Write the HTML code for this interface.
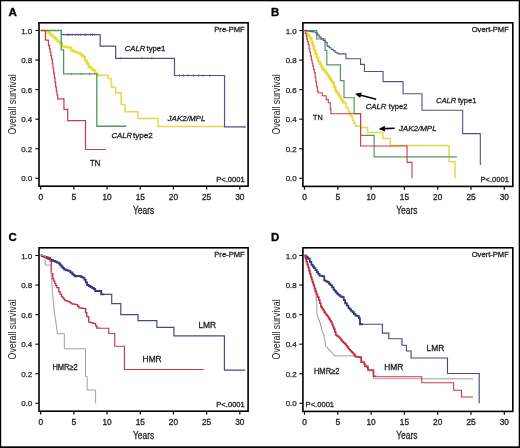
<!DOCTYPE html>
<html><head><meta charset="utf-8"><title>Kaplan-Meier survival curves</title>
<style>html,body{margin:0;padding:0;background:#fff;width:520px;height:448px;overflow:hidden}svg{display:block;will-change:transform}text{font-family:"Liberation Sans",sans-serif}</style>
</head><body>
<svg width="520" height="448" viewBox="0 0 520 448" font-family='"Liberation Sans", sans-serif'>
<rect width="520" height="448" fill="#fff"/>
<rect x="39" y="22.8" width="209.1" height="163.4" fill="none" stroke="#000" stroke-width="1.6"/>
<line x1="35.4" y1="178.3" x2="39" y2="178.3" stroke="#000" stroke-width="1.1"/>
<text x="32.3" y="181.3" font-size="8" text-anchor="end" font-weight="normal" font-style="normal" fill="#222" stroke="#222" stroke-width="0.25" >0.0</text>
<line x1="35.4" y1="148.74" x2="39" y2="148.74" stroke="#000" stroke-width="1.1"/>
<text x="32.3" y="151.74" font-size="8" text-anchor="end" font-weight="normal" font-style="normal" fill="#222" stroke="#222" stroke-width="0.25" >0.2</text>
<line x1="35.4" y1="119.18" x2="39" y2="119.18" stroke="#000" stroke-width="1.1"/>
<text x="32.3" y="122.18" font-size="8" text-anchor="end" font-weight="normal" font-style="normal" fill="#222" stroke="#222" stroke-width="0.25" >0.4</text>
<line x1="35.4" y1="89.62" x2="39" y2="89.62" stroke="#000" stroke-width="1.1"/>
<text x="32.3" y="92.62" font-size="8" text-anchor="end" font-weight="normal" font-style="normal" fill="#222" stroke="#222" stroke-width="0.25" >0.6</text>
<line x1="35.4" y1="60.06" x2="39" y2="60.06" stroke="#000" stroke-width="1.1"/>
<text x="32.3" y="63.06" font-size="8" text-anchor="end" font-weight="normal" font-style="normal" fill="#222" stroke="#222" stroke-width="0.25" >0.8</text>
<line x1="35.4" y1="30.5" x2="39" y2="30.5" stroke="#000" stroke-width="1.1"/>
<text x="32.3" y="33.5" font-size="8" text-anchor="end" font-weight="normal" font-style="normal" fill="#222" stroke="#222" stroke-width="0.25" >1.0</text>
<line x1="40.7" y1="186.2" x2="40.7" y2="189.5" stroke="#000" stroke-width="1.2"/>
<text x="40.7" y="200" font-size="8.3" text-anchor="middle" font-weight="normal" font-style="normal" fill="#222" stroke="#222" stroke-width="0.3" >0</text>
<line x1="73.88" y1="186.2" x2="73.88" y2="189.5" stroke="#000" stroke-width="1.2"/>
<text x="73.88" y="200" font-size="8.3" text-anchor="middle" font-weight="normal" font-style="normal" fill="#222" stroke="#222" stroke-width="0.3" >5</text>
<line x1="107.07" y1="186.2" x2="107.07" y2="189.5" stroke="#000" stroke-width="1.2"/>
<text x="107.07" y="200" font-size="8.3" text-anchor="middle" font-weight="normal" font-style="normal" fill="#222" stroke="#222" stroke-width="0.3" >10</text>
<line x1="140.25" y1="186.2" x2="140.25" y2="189.5" stroke="#000" stroke-width="1.2"/>
<text x="140.25" y="200" font-size="8.3" text-anchor="middle" font-weight="normal" font-style="normal" fill="#222" stroke="#222" stroke-width="0.3" >15</text>
<line x1="173.44" y1="186.2" x2="173.44" y2="189.5" stroke="#000" stroke-width="1.2"/>
<text x="173.44" y="200" font-size="8.3" text-anchor="middle" font-weight="normal" font-style="normal" fill="#222" stroke="#222" stroke-width="0.3" >20</text>
<line x1="206.62" y1="186.2" x2="206.62" y2="189.5" stroke="#000" stroke-width="1.2"/>
<text x="206.62" y="200" font-size="8.3" text-anchor="middle" font-weight="normal" font-style="normal" fill="#222" stroke="#222" stroke-width="0.3" >25</text>
<line x1="239.81" y1="186.2" x2="239.81" y2="189.5" stroke="#000" stroke-width="1.2"/>
<text x="239.81" y="200" font-size="8.3" text-anchor="middle" font-weight="normal" font-style="normal" fill="#222" stroke="#222" stroke-width="0.3" >30</text>
<text x="133" y="213.8" font-size="10.5" text-anchor="start" font-weight="normal" font-style="normal" fill="#222" stroke="#222" stroke-width="0.28" textLength="21.2" lengthAdjust="spacingAndGlyphs" >Years</text>
<text x="0" y="0" font-size="10.5" text-anchor="middle" fill="#222" textLength="60" lengthAdjust="spacingAndGlyphs" transform="translate(16.2 104.4) rotate(-90)">Overall survival</text>
<rect x="302.9" y="22.8" width="209.9" height="163.6" fill="none" stroke="#000" stroke-width="1.6"/>
<line x1="299.3" y1="178.3" x2="302.9" y2="178.3" stroke="#000" stroke-width="1.1"/>
<text x="296.8" y="181.3" font-size="8" text-anchor="end" font-weight="normal" font-style="normal" fill="#222" stroke="#222" stroke-width="0.25" >0.0</text>
<line x1="299.3" y1="148.74" x2="302.9" y2="148.74" stroke="#000" stroke-width="1.1"/>
<text x="296.8" y="151.74" font-size="8" text-anchor="end" font-weight="normal" font-style="normal" fill="#222" stroke="#222" stroke-width="0.25" >0.2</text>
<line x1="299.3" y1="119.18" x2="302.9" y2="119.18" stroke="#000" stroke-width="1.1"/>
<text x="296.8" y="122.18" font-size="8" text-anchor="end" font-weight="normal" font-style="normal" fill="#222" stroke="#222" stroke-width="0.25" >0.4</text>
<line x1="299.3" y1="89.62" x2="302.9" y2="89.62" stroke="#000" stroke-width="1.1"/>
<text x="296.8" y="92.62" font-size="8" text-anchor="end" font-weight="normal" font-style="normal" fill="#222" stroke="#222" stroke-width="0.25" >0.6</text>
<line x1="299.3" y1="60.06" x2="302.9" y2="60.06" stroke="#000" stroke-width="1.1"/>
<text x="296.8" y="63.06" font-size="8" text-anchor="end" font-weight="normal" font-style="normal" fill="#222" stroke="#222" stroke-width="0.25" >0.8</text>
<line x1="299.3" y1="30.5" x2="302.9" y2="30.5" stroke="#000" stroke-width="1.1"/>
<text x="296.8" y="33.5" font-size="8" text-anchor="end" font-weight="normal" font-style="normal" fill="#222" stroke="#222" stroke-width="0.25" >1.0</text>
<line x1="304.5" y1="186.4" x2="304.5" y2="189.7" stroke="#000" stroke-width="1.2"/>
<text x="304.5" y="200.2" font-size="8.3" text-anchor="middle" font-weight="normal" font-style="normal" fill="#222" stroke="#222" stroke-width="0.3" >0</text>
<line x1="337.8" y1="186.4" x2="337.8" y2="189.7" stroke="#000" stroke-width="1.2"/>
<text x="337.8" y="200.2" font-size="8.3" text-anchor="middle" font-weight="normal" font-style="normal" fill="#222" stroke="#222" stroke-width="0.3" >5</text>
<line x1="371.1" y1="186.4" x2="371.1" y2="189.7" stroke="#000" stroke-width="1.2"/>
<text x="371.1" y="200.2" font-size="8.3" text-anchor="middle" font-weight="normal" font-style="normal" fill="#222" stroke="#222" stroke-width="0.3" >10</text>
<line x1="404.4" y1="186.4" x2="404.4" y2="189.7" stroke="#000" stroke-width="1.2"/>
<text x="404.4" y="200.2" font-size="8.3" text-anchor="middle" font-weight="normal" font-style="normal" fill="#222" stroke="#222" stroke-width="0.3" >15</text>
<line x1="437.7" y1="186.4" x2="437.7" y2="189.7" stroke="#000" stroke-width="1.2"/>
<text x="437.7" y="200.2" font-size="8.3" text-anchor="middle" font-weight="normal" font-style="normal" fill="#222" stroke="#222" stroke-width="0.3" >20</text>
<line x1="471" y1="186.4" x2="471" y2="189.7" stroke="#000" stroke-width="1.2"/>
<text x="471" y="200.2" font-size="8.3" text-anchor="middle" font-weight="normal" font-style="normal" fill="#222" stroke="#222" stroke-width="0.3" >25</text>
<line x1="504.3" y1="186.4" x2="504.3" y2="189.7" stroke="#000" stroke-width="1.2"/>
<text x="504.3" y="200.2" font-size="8.3" text-anchor="middle" font-weight="normal" font-style="normal" fill="#222" stroke="#222" stroke-width="0.3" >30</text>
<text x="396.2" y="214" font-size="10.5" text-anchor="start" font-weight="normal" font-style="normal" fill="#222" stroke="#222" stroke-width="0.28" textLength="21.2" lengthAdjust="spacingAndGlyphs" >Years</text>
<text x="0" y="0" font-size="10.5" text-anchor="middle" fill="#222" textLength="60" lengthAdjust="spacingAndGlyphs" transform="translate(280.3 104.4) rotate(-90)">Overall survival</text>
<rect x="39" y="247.8" width="209.1" height="163.4" fill="none" stroke="#000" stroke-width="1.6"/>
<line x1="35.4" y1="403.3" x2="39" y2="403.3" stroke="#000" stroke-width="1.1"/>
<text x="32.3" y="406.3" font-size="8" text-anchor="end" font-weight="normal" font-style="normal" fill="#222" stroke="#222" stroke-width="0.25" >0.0</text>
<line x1="35.4" y1="373.74" x2="39" y2="373.74" stroke="#000" stroke-width="1.1"/>
<text x="32.3" y="376.74" font-size="8" text-anchor="end" font-weight="normal" font-style="normal" fill="#222" stroke="#222" stroke-width="0.25" >0.2</text>
<line x1="35.4" y1="344.18" x2="39" y2="344.18" stroke="#000" stroke-width="1.1"/>
<text x="32.3" y="347.18" font-size="8" text-anchor="end" font-weight="normal" font-style="normal" fill="#222" stroke="#222" stroke-width="0.25" >0.4</text>
<line x1="35.4" y1="314.62" x2="39" y2="314.62" stroke="#000" stroke-width="1.1"/>
<text x="32.3" y="317.62" font-size="8" text-anchor="end" font-weight="normal" font-style="normal" fill="#222" stroke="#222" stroke-width="0.25" >0.6</text>
<line x1="35.4" y1="285.06" x2="39" y2="285.06" stroke="#000" stroke-width="1.1"/>
<text x="32.3" y="288.06" font-size="8" text-anchor="end" font-weight="normal" font-style="normal" fill="#222" stroke="#222" stroke-width="0.25" >0.8</text>
<line x1="35.4" y1="255.5" x2="39" y2="255.5" stroke="#000" stroke-width="1.1"/>
<text x="32.3" y="258.5" font-size="8" text-anchor="end" font-weight="normal" font-style="normal" fill="#222" stroke="#222" stroke-width="0.25" >1.0</text>
<line x1="40.7" y1="411.2" x2="40.7" y2="414.5" stroke="#000" stroke-width="1.2"/>
<text x="40.7" y="425" font-size="8.3" text-anchor="middle" font-weight="normal" font-style="normal" fill="#222" stroke="#222" stroke-width="0.3" >0</text>
<line x1="73.88" y1="411.2" x2="73.88" y2="414.5" stroke="#000" stroke-width="1.2"/>
<text x="73.88" y="425" font-size="8.3" text-anchor="middle" font-weight="normal" font-style="normal" fill="#222" stroke="#222" stroke-width="0.3" >5</text>
<line x1="107.07" y1="411.2" x2="107.07" y2="414.5" stroke="#000" stroke-width="1.2"/>
<text x="107.07" y="425" font-size="8.3" text-anchor="middle" font-weight="normal" font-style="normal" fill="#222" stroke="#222" stroke-width="0.3" >10</text>
<line x1="140.25" y1="411.2" x2="140.25" y2="414.5" stroke="#000" stroke-width="1.2"/>
<text x="140.25" y="425" font-size="8.3" text-anchor="middle" font-weight="normal" font-style="normal" fill="#222" stroke="#222" stroke-width="0.3" >15</text>
<line x1="173.44" y1="411.2" x2="173.44" y2="414.5" stroke="#000" stroke-width="1.2"/>
<text x="173.44" y="425" font-size="8.3" text-anchor="middle" font-weight="normal" font-style="normal" fill="#222" stroke="#222" stroke-width="0.3" >20</text>
<line x1="206.62" y1="411.2" x2="206.62" y2="414.5" stroke="#000" stroke-width="1.2"/>
<text x="206.62" y="425" font-size="8.3" text-anchor="middle" font-weight="normal" font-style="normal" fill="#222" stroke="#222" stroke-width="0.3" >25</text>
<line x1="239.81" y1="411.2" x2="239.81" y2="414.5" stroke="#000" stroke-width="1.2"/>
<text x="239.81" y="425" font-size="8.3" text-anchor="middle" font-weight="normal" font-style="normal" fill="#222" stroke="#222" stroke-width="0.3" >30</text>
<text x="133" y="438.8" font-size="10.5" text-anchor="start" font-weight="normal" font-style="normal" fill="#222" stroke="#222" stroke-width="0.28" textLength="21.2" lengthAdjust="spacingAndGlyphs" >Years</text>
<text x="0" y="0" font-size="10.5" text-anchor="middle" fill="#222" textLength="60" lengthAdjust="spacingAndGlyphs" transform="translate(16.2 329.4) rotate(-90)">Overall survival</text>
<rect x="302.9" y="247.8" width="209.9" height="163.6" fill="none" stroke="#000" stroke-width="1.6"/>
<line x1="299.3" y1="403.3" x2="302.9" y2="403.3" stroke="#000" stroke-width="1.1"/>
<text x="296.8" y="406.3" font-size="8" text-anchor="end" font-weight="normal" font-style="normal" fill="#222" stroke="#222" stroke-width="0.25" >0.0</text>
<line x1="299.3" y1="373.74" x2="302.9" y2="373.74" stroke="#000" stroke-width="1.1"/>
<text x="296.8" y="376.74" font-size="8" text-anchor="end" font-weight="normal" font-style="normal" fill="#222" stroke="#222" stroke-width="0.25" >0.2</text>
<line x1="299.3" y1="344.18" x2="302.9" y2="344.18" stroke="#000" stroke-width="1.1"/>
<text x="296.8" y="347.18" font-size="8" text-anchor="end" font-weight="normal" font-style="normal" fill="#222" stroke="#222" stroke-width="0.25" >0.4</text>
<line x1="299.3" y1="314.62" x2="302.9" y2="314.62" stroke="#000" stroke-width="1.1"/>
<text x="296.8" y="317.62" font-size="8" text-anchor="end" font-weight="normal" font-style="normal" fill="#222" stroke="#222" stroke-width="0.25" >0.6</text>
<line x1="299.3" y1="285.06" x2="302.9" y2="285.06" stroke="#000" stroke-width="1.1"/>
<text x="296.8" y="288.06" font-size="8" text-anchor="end" font-weight="normal" font-style="normal" fill="#222" stroke="#222" stroke-width="0.25" >0.8</text>
<line x1="299.3" y1="255.5" x2="302.9" y2="255.5" stroke="#000" stroke-width="1.1"/>
<text x="296.8" y="258.5" font-size="8" text-anchor="end" font-weight="normal" font-style="normal" fill="#222" stroke="#222" stroke-width="0.25" >1.0</text>
<line x1="304.5" y1="411.4" x2="304.5" y2="414.7" stroke="#000" stroke-width="1.2"/>
<text x="304.5" y="425.2" font-size="8.3" text-anchor="middle" font-weight="normal" font-style="normal" fill="#222" stroke="#222" stroke-width="0.3" >0</text>
<line x1="337.8" y1="411.4" x2="337.8" y2="414.7" stroke="#000" stroke-width="1.2"/>
<text x="337.8" y="425.2" font-size="8.3" text-anchor="middle" font-weight="normal" font-style="normal" fill="#222" stroke="#222" stroke-width="0.3" >5</text>
<line x1="371.1" y1="411.4" x2="371.1" y2="414.7" stroke="#000" stroke-width="1.2"/>
<text x="371.1" y="425.2" font-size="8.3" text-anchor="middle" font-weight="normal" font-style="normal" fill="#222" stroke="#222" stroke-width="0.3" >10</text>
<line x1="404.4" y1="411.4" x2="404.4" y2="414.7" stroke="#000" stroke-width="1.2"/>
<text x="404.4" y="425.2" font-size="8.3" text-anchor="middle" font-weight="normal" font-style="normal" fill="#222" stroke="#222" stroke-width="0.3" >15</text>
<line x1="437.7" y1="411.4" x2="437.7" y2="414.7" stroke="#000" stroke-width="1.2"/>
<text x="437.7" y="425.2" font-size="8.3" text-anchor="middle" font-weight="normal" font-style="normal" fill="#222" stroke="#222" stroke-width="0.3" >20</text>
<line x1="471" y1="411.4" x2="471" y2="414.7" stroke="#000" stroke-width="1.2"/>
<text x="471" y="425.2" font-size="8.3" text-anchor="middle" font-weight="normal" font-style="normal" fill="#222" stroke="#222" stroke-width="0.3" >25</text>
<line x1="504.3" y1="411.4" x2="504.3" y2="414.7" stroke="#000" stroke-width="1.2"/>
<text x="504.3" y="425.2" font-size="8.3" text-anchor="middle" font-weight="normal" font-style="normal" fill="#222" stroke="#222" stroke-width="0.3" >30</text>
<text x="396.2" y="439" font-size="10.5" text-anchor="start" font-weight="normal" font-style="normal" fill="#222" stroke="#222" stroke-width="0.28" textLength="21.2" lengthAdjust="spacingAndGlyphs" >Years</text>
<text x="0" y="0" font-size="10.5" text-anchor="middle" fill="#222" textLength="60" lengthAdjust="spacingAndGlyphs" transform="translate(280.3 329.4) rotate(-90)">Overall survival</text>
<text x="8.5" y="16.4" font-size="11.6" text-anchor="start" font-weight="bold" font-style="normal" fill="#000" stroke="#000" stroke-width="0.35">A</text>
<text x="271" y="16.3" font-size="11.4" text-anchor="start" font-weight="bold" font-style="normal" fill="#000" stroke="#000" stroke-width="0.35">B</text>
<text x="8.6" y="241.4" font-size="11.4" text-anchor="start" font-weight="bold" font-style="normal" fill="#000" stroke="#000" stroke-width="0.35">C</text>
<text x="271" y="241.4" font-size="11.4" text-anchor="start" font-weight="bold" font-style="normal" fill="#000" stroke="#000" stroke-width="0.35">D</text>
<path d="M40.7 30.5H45.08V30.5H46.67V31.39H48.35V32.88H50.02V34.38H51.7V35.88H53.38V37.37H55.05V38.87H56.73V40.37H58.4V41.86H60.08V43.36H62.07V46.17H63.78V46.54H65.49V46.91H67.2V47.28H68.91V47.64H71.23V50.31H72.98V51.04H74.73V51.78H76.47V52.52H77.83V52.97H79.19V53.41H80.52V54.52H81.85V55.63H83.71V56.96H84.97V60.5H86.83V63.75H88.62V66.86H90.81V68.63H93V70.41H95.32V73.51H97.51V75.28H100.43" fill="none" stroke="#eadb3a" stroke-width="2.2" stroke-linejoin="miter" />
<path d="M99.77 75.28H107.87V78.53H111.05V83.71H111.72V87.26H115.7V92.72H121.14V104.4H124.99V111.79H138V118.5H158.17V126.57H224.54" fill="none" stroke="#e4da4c" stroke-width="1.5" stroke-linejoin="miter" />
<path d="M40.7 30.5H61.47V34.7H100.17V46.17H115.7V58.29H174.5V75.51H224.54V126.87H245.12" fill="none" stroke="#505288" stroke-width="1.2" stroke-linejoin="miter" />
<path d="M40.7 30.5H61.27V49.86H63.6V73.95H96.78V126.27H126.32" fill="none" stroke="#4f9a64" stroke-width="1.3" stroke-linejoin="miter" />
<path d="M40.7 30.5H45.41V40.11H48.4V44.84H48.66V45.28H49.39V48.72H50.12V52.15H50.85V55.59H51.58V59.03H52.28V63.75H52.98V68.48H53.68V73.21H54.37V77.94H55.01V82.38H55.66V86.81H56.3V91.25H56.99V95.01H57.69V98.78H63.93V109.28H67.71V120.66H85.5V149.48H105.61" fill="none" stroke="#d23a48" stroke-width="1.2" stroke-linejoin="miter" />
<path d="M67.4 33.7v2M69.1 33.7v2M72.1 33.7v2M75.6 33.7v2M78.2 33.7v2M80.8 33.7v2M84.7 33.7v2M86 33.7v2M90.3 33.7v2M92.4 33.7v2M94.6 33.7v2" stroke="#505288" stroke-width="1.0" fill="none"/>
<path d="M120.8 57.29v2M141.8 57.29v2M151.8 57.29v2" stroke="#505288" stroke-width="1.0" fill="none"/>
<path d="M179.5 74.51v2M183.3 74.51v2M188.2 74.51v2M193.6 74.51v2M199 74.51v2M203 74.51v2M209.7 74.51v2" stroke="#505288" stroke-width="1.0" fill="none"/>
<path d="M245 125.87v2" stroke="#505288" stroke-width="1.0" fill="none"/>
<path d="M71.6 72.95v2M81 72.95v2M89.5 72.95v2" stroke="#4f9a64" stroke-width="1.0" fill="none"/>
<text x="124.7" y="51.3" font-size="8" text-anchor="start" font-weight="normal" font-style="italic" fill="#1a1a1a" stroke="#1a1a1a" stroke-width="0.28" textLength="20.6" lengthAdjust="spacingAndGlyphs" >CALR</text>
<text x="146.5" y="51.3" font-size="8" text-anchor="start" font-weight="normal" font-style="normal" fill="#1a1a1a" stroke="#1a1a1a" stroke-width="0.28" textLength="18.9" lengthAdjust="spacingAndGlyphs" >type1</text>
<text x="167.6" y="120.5" font-size="8" text-anchor="start" font-weight="normal" font-style="italic" fill="#1a1a1a" stroke="#1a1a1a" stroke-width="0.28" >JAK2/MPL</text>
<text x="111.6" y="137.7" font-size="8" text-anchor="start" font-weight="normal" font-style="italic" fill="#1a1a1a" stroke="#1a1a1a" stroke-width="0.28" textLength="20.4" lengthAdjust="spacingAndGlyphs" >CALR</text>
<text x="133" y="137.7" font-size="8" text-anchor="start" font-weight="normal" font-style="normal" fill="#1a1a1a" stroke="#1a1a1a" stroke-width="0.28" textLength="19.9" lengthAdjust="spacingAndGlyphs" >type2</text>
<text x="90" y="166.2" font-size="8.2" text-anchor="start" font-weight="normal" font-style="normal" fill="#1a1a1a" stroke="#1a1a1a" stroke-width="0.28" textLength="10.2" lengthAdjust="spacingAndGlyphs" >TN</text>
<text x="214.3" y="32.1" font-size="7.6" text-anchor="start" font-weight="normal" font-style="normal" fill="#1a1a1a" stroke="#1a1a1a" stroke-width="0.28" >Pre-PMF</text>
<text x="216.2" y="182.1" font-size="7.6" text-anchor="start" font-weight="normal" font-style="normal" fill="#1a1a1a" stroke="#1a1a1a" stroke-width="0.28" >P&lt;.0001</text>
<path d="M304.5 30.5H305.9V32.42H307.3V34.34H308.7V36.26H310.09V38.19H311.43V42.23H312.76V46.27H314.09V50.31H315.47V54H316.84V57.7H318.22V61.39H319.55V63.71H320.88V66.02H322.22V68.34H323.46V69.89H324.71V71.44H325.96V72.99H327.21V74.54H328.48V76.58H329.74V78.61H331.01V80.64H332.27V82.67H333.77V86.66H335.27V90.65H336.65V92.67H338.02V94.69H339.4V96.71H340.73V98.73H342.06V100.75H343.39V102.77H344.46" fill="none" stroke="#eadb3a" stroke-width="2.2" stroke-linejoin="miter" />
<path d="M343.39 102.77H345.89V107.43H348.39V112.09H350.42V116.15H352.45V120.21H353.98V123.24H355.52V126.27H357.11" fill="none" stroke="#e4da4c" stroke-width="1.5" stroke-linejoin="miter" />
<path d="M355.52 126.27H360.58V127.46H367.57V132.48H382.82V138.39H390.21V145.56H449.02V161.75H455.02V178.3" fill="none" stroke="#e4da4c" stroke-width="1.5" stroke-linejoin="miter" />
<path d="M304.5 30.5H316.62V39H325.08V50.45H326.81V64.94H340.4V80.6H343.99V97.75H354.12V113.71H360.58V135.29H374.1V156.87H457.01" fill="none" stroke="#4f9a64" stroke-width="1.2" stroke-linejoin="miter" />
<path d="M304.5 30.5H305.26V33.28H306.02V36.06H306.78V38.84H307.54V41.61H308.3V44.39H309.06V48.31H309.83V52.23H310.59V56.14H311.36V60.06H312.11V63.2H312.86V66.34H313.61V69.48H314.36V72.62H315.11V77.24H315.86V81.86H316.6V86.48H317.35V91.1H318.22V92.72H322.22V95.68H326.21V99.67H328.28V102.77H330.27V109.13H330.87V113.71H360.58V146.01H407.06V162.4H411.99V178.3" fill="none" stroke="#d23a48" stroke-width="1.1" stroke-linejoin="miter" />
<path d="M304.5 30.5H306.66V30.87H308.83V31.24H310.99V31.61H313.16V31.98H316.09V33.16H317.62V35.16H319.15V37.15H321.15V38.83H323.15V40.5H325.15V42.18H327.14V46.17H329.14V47.72H331.14V49.27H333.14V50.75H335.14V52.23H336.7V53.04H338.27V53.85H345.99V58.8H360.58V64.35H364.44V71.5H383.09V81.64H403.07V93.76H421.98V110.31H462.68V133.66H480.32V164.89" fill="none" stroke="#505288" stroke-width="1.1" stroke-linejoin="miter" />
<line x1="376.1" y1="99.3" x2="360.99" y2="95.29" stroke="#000" stroke-width="1.6"/>
<path d="M355 93.7L361.74 92.49L360.25 98.09Z" fill="#000"/>
<line x1="394.7" y1="128.3" x2="384.9" y2="128.67" stroke="#000" stroke-width="1.6"/>
<path d="M378.7 128.9L384.79 125.77L385 131.57Z" fill="#000"/>
<text x="365.7" y="108.9" font-size="8" text-anchor="start" font-weight="normal" font-style="italic" fill="#1a1a1a" stroke="#1a1a1a" stroke-width="0.28" textLength="20.8" lengthAdjust="spacingAndGlyphs" >CALR</text>
<text x="388.8" y="108.9" font-size="8" text-anchor="start" font-weight="normal" font-style="normal" fill="#1a1a1a" stroke="#1a1a1a" stroke-width="0.28" textLength="18.6" lengthAdjust="spacingAndGlyphs" >type2</text>
<text x="436" y="103.2" font-size="8" text-anchor="start" font-weight="normal" font-style="italic" fill="#1a1a1a" stroke="#1a1a1a" stroke-width="0.28" textLength="20.4" lengthAdjust="spacingAndGlyphs" >CALR</text>
<text x="457.9" y="103.2" font-size="8" text-anchor="start" font-weight="normal" font-style="normal" fill="#1a1a1a" stroke="#1a1a1a" stroke-width="0.28" textLength="18.5" lengthAdjust="spacingAndGlyphs" >type1</text>
<text x="398.8" y="131.2" font-size="8" text-anchor="start" font-weight="normal" font-style="italic" fill="#1a1a1a" stroke="#1a1a1a" stroke-width="0.28" >JAK2/MPL</text>
<text x="313" y="120.3" font-size="7.8" text-anchor="start" font-weight="normal" font-style="normal" fill="#1a1a1a" stroke="#1a1a1a" stroke-width="0.28" textLength="9.6" lengthAdjust="spacingAndGlyphs" >TN</text>
<text x="471.7" y="32.1" font-size="7.6" text-anchor="start" font-weight="normal" font-style="normal" fill="#1a1a1a" stroke="#1a1a1a" stroke-width="0.28" >Overt-PMF</text>
<text x="480.5" y="182.3" font-size="7.6" text-anchor="start" font-weight="normal" font-style="normal" fill="#1a1a1a" stroke="#1a1a1a" stroke-width="0.28" >P&lt;.0001</text>
<path d="M40.7 255.5H42.03V256.09H43.59V256.76H45.15V257.42H46.71V258.09H48.27V258.75H49.83V259.42H51.39V260.08H53.24V260.93H55.1V261.78H56.96V262.63H58.82V263.48H60.15V265.14H61.47V266.79H62.83V268.17H64.19V269.54H66.25V270.21H68.31V270.87H70.3V272.53H72.29V274.2H73.65V275.19H75.01V276.19H77V276.04H79V275.9H80.69V276.78H82.38V277.67H84.37V279.59H85.73V282.33H87.09V285.06H88.79V286.02H90.48V286.98H92.14V287.99H93.8V289.01H95.19V290.97H99.17V290.97H101.23V294.37H104.42" fill="none" stroke="#333b7c" stroke-width="1.9" stroke-linejoin="miter" />
<path d="M103.75 294.37H111.72V303.53H120.81V314.62H138V320.68H156.85V327.4H173.9V335.9H224.41V370.19H245.32" fill="none" stroke="#454b86" stroke-width="1.2" stroke-linejoin="miter" />
<path d="M40.7 255.5H42.14V255.87H43.58V256.24H45.01V256.61H46.45V256.98H47.89V257.35H49.33V257.72H50.32V261.41H51.39V273.53H52.78V278.85H53.77V281.22H54.77V283.58H55.8V285.65H56.83V287.72H58.82V291.71H60.15V294.08H61.47V296.44H62.62V297.8H63.77V299.15H64.93V300.51H66.25V300.92H67.58V301.34H68.91V301.76H70.27V302.8H71.63V303.83H72.79V304.02H73.95V304.2H75.11V304.38H76.27V304.57H77.63V306.27H79V307.97H80.37V308.12H81.75V308.26H83.13V308.41H84.5V308.56H85.63V312.62H86.76V316.69H88.75V322.16H90.18V322.54H91.61V322.93H93.03V323.31H94.46V323.69H95.65V325.96H96.85V328.22H99.77" fill="none" stroke="#c52e3e" stroke-width="1.3" stroke-linejoin="miter" />
<path d="M99.11 328.22H108.73V333.54H114.7V346.25H124.39V369.45H203.57" fill="none" stroke="#cc3a4a" stroke-width="1.15" stroke-linejoin="miter" />
<path d="M40.7 255.5H45.21V265.11H50.39V265.11H50.39V265.11H50.87V272.09H51.35V279.07H51.83V286.06H52.31V293.04H52.78V297.77H53.24V302.5H53.71V307.23H54.17V311.96H54.65V315.29H55.14V318.61H55.62V321.94H56.1V325.26H56.6V329.47H57.09V333.69H64.33V348.76H85.5V376.55H87.16V390H95.59V403.3" fill="none" stroke="#a0a0a0" stroke-width="1.0" stroke-linejoin="miter" />
<text x="198.4" y="328.3" font-size="8.4" text-anchor="start" font-weight="normal" font-style="normal" fill="#1a1a1a" stroke="#1a1a1a" stroke-width="0.28" >LMR</text>
<text x="142.6" y="362.4" font-size="8.4" text-anchor="start" font-weight="normal" font-style="normal" fill="#1a1a1a" stroke="#1a1a1a" stroke-width="0.28" >HMR</text>
<text x="52.4" y="370.2" font-size="8.4" text-anchor="start" font-weight="normal" font-style="normal" fill="#1a1a1a" stroke="#1a1a1a" stroke-width="0.28" textLength="25.4" lengthAdjust="spacingAndGlyphs" >HMR≥2</text>
<text x="214.3" y="257.4" font-size="7.6" text-anchor="start" font-weight="normal" font-style="normal" fill="#1a1a1a" stroke="#1a1a1a" stroke-width="0.28" >Pre-PMF</text>
<text x="216.3" y="406.9" font-size="7.6" text-anchor="start" font-weight="normal" font-style="normal" fill="#1a1a1a" stroke="#1a1a1a" stroke-width="0.28" >P&lt;.0001</text>
<path d="M304.5 255.5H305.4V256.09H306.75V257.42H308.1V258.75H309.76V261.78H311.43V264.81H312.76V266.51H314.09V268.21H315.46V270.21H316.82V272.2H318.15V273.9H319.49V275.6H320.85V275.9H322.22V276.19H324.21V280.33H325.35V280.97H326.48V281.61H327.61V282.25H328.94V283.66H330.27V285.06H331.94V287.35H333.6V289.64H334.74V290.97H335.87V292.3H337V293.63H338.13V294.57H339.27V295.5H340.4V296.44H341.4V296.77H342.4V297.11H343.76V300.17H345.13V303.24H346.79V305.68H348.46V308.12H349.79V309.45H351.12V310.78H352.45V312.11H353.92V313.81H355.38V315.51H356.58V315.8H357.78V316.1H358.85V318.17H359.91V320.24H359.98V324.23H363.11" fill="none" stroke="#333b7c" stroke-width="1.8" stroke-linejoin="miter" />
<path d="M362.44 324.23H382.42V333.1H388.82V338.71H402V345.21H406.4V350.98H411.06V358H447.49V373.5H479.19V403.3" fill="none" stroke="#454b86" stroke-width="1.15" stroke-linejoin="miter" />
<path d="M304.5 255.5H305.33V258.09H306.17V260.67H307V263.26H307.83V265.85H308.65V268.71H309.46V271.57H310.28V274.44H311.09V277.3H311.89V280.51H312.69V283.72H313.49V286.92H314.29V290.13H315.09V293.34H316.09V299.99H316.82V314.77H317.71V317.43H318.6V320.09H319.49V322.75H320.48V326.52H321.48V330.29H322.15V331.86H322.81V333.44H323.48V335.02H324.19V338.81H324.9V342.6H325.61V346.4H326.39V347.19H327.17V347.97H327.94V348.76H328.72V349.55H329.5V350.34H330.27V351.13H331.07V352.07H331.87V353.02H332.67V353.96H333.47V354.91H334.27V355.86H353.78V356.89H361.78V361.18H364.44V365.17H366.44V367.83H368.77V370.78H373.63V378.77H473" fill="none" stroke="#a0a0a0" stroke-width="1.0" stroke-linejoin="miter" />
<path d="M304.5 255.5H305.4V258.49H306.3V261.49H307.2V264.48H308.1V267.47H308.96V270.62H309.83V273.78H310.69V276.93H311.6V279.64H312.51V282.35H313.42V285.06H314.46V288.24H315.49V291.42H316.49V294.26H317.49V297.11H318.82V299.99H319.82V303.31H320.82V306.64H321.95V308.46H323.08V310.28H324.21V312.11H325.26V313.47H326.31V314.84H327.36V316.21H328.41V317.58H329.3V319.1H330.19V320.63H331.07V322.16H331.98V324.42H332.89V326.69H333.8V328.96H334.8V331.99H335.8V335.02H336.69V335.66H337.58V336.3H338.47V336.94H339.58V338.29H340.69V339.65H341.8V341H342.68V341.85H343.56V342.7H344.44V343.55H345.33V344.4H346.32V345.75H347.32V347.1H348.32V348.45H349.32V349.8H350.32V350.79H351.32V351.79H352.32V352.79H353.32V353.79H354.35V355.15H355.38V356.51H356.41V356.67H357.43V356.84H358.46V357H359.48V357.17H360.51V357.33H361.11V362.21H364.31V364.13H364.97V366.35H367.9V370.05H373.43V376.25H376.43" fill="none" stroke="#c52e3e" stroke-width="1.6" stroke-linejoin="miter" />
<path d="M375.76 376.7H421.72V382.76H453.68V390.29H461.48V397H473" fill="none" stroke="#cc3a4a" stroke-width="1.1" stroke-linejoin="miter" />
<text x="426.6" y="351" font-size="8.4" text-anchor="start" font-weight="normal" font-style="normal" fill="#1a1a1a" stroke="#1a1a1a" stroke-width="0.28" >LMR</text>
<text x="384.2" y="369.8" font-size="8.4" text-anchor="start" font-weight="normal" font-style="normal" fill="#1a1a1a" stroke="#1a1a1a" stroke-width="0.28" >HMR</text>
<text x="313.9" y="374.4" font-size="8.4" text-anchor="start" font-weight="normal" font-style="normal" fill="#1a1a1a" stroke="#1a1a1a" stroke-width="0.28" textLength="25.6" lengthAdjust="spacingAndGlyphs" >HMR≥2</text>
<text x="471.7" y="257" font-size="7.6" text-anchor="start" font-weight="normal" font-style="normal" fill="#1a1a1a" stroke="#1a1a1a" stroke-width="0.28" >Overt-PMF</text>
<text x="305.6" y="406.8" font-size="7.6" text-anchor="start" font-weight="normal" font-style="normal" fill="#1a1a1a" stroke="#1a1a1a" stroke-width="0.28" >P&lt;.0001</text>
<rect x="0" y="0" width="520" height="1.3" fill="#000"/>
<rect x="0" y="0" width="1.2" height="448" fill="#000"/>
<rect x="518.7" y="0" width="1.3" height="448" fill="#000"/>
<rect x="0" y="446.3" width="520" height="1.7" fill="#000"/>
</svg>
</body></html>
